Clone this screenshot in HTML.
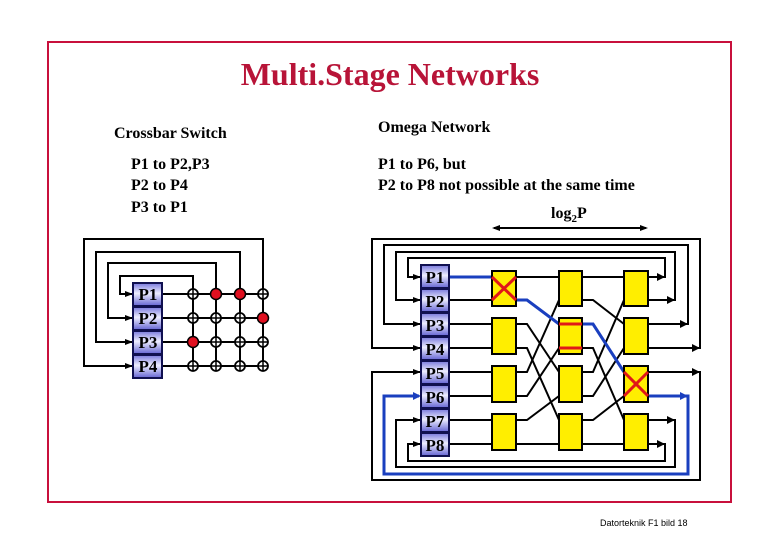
<!DOCTYPE html>
<html><head><meta charset="utf-8"><style>
html,body{margin:0;padding:0;background:#fff;}
svg{display:block;}
text{font-family:"Liberation Serif",serif;font-weight:bold;}
</style></head><body>
<svg width="780" height="540" viewBox="0 0 780 540" xmlns="http://www.w3.org/2000/svg">
<defs>
<linearGradient id="pg" x1="0" y1="0" x2="0" y2="1">
<stop offset="0" stop-color="#7878dc"/><stop offset="0.45" stop-color="#eeeeff"/><stop offset="1" stop-color="#6262d2"/>
</linearGradient>
<marker id="ar" markerWidth="8" markerHeight="8" refX="7" refY="4" orient="auto" markerUnits="userSpaceOnUse">
<path d="M0,1 L8,4 L0,7 Z" fill="#000"/></marker>
<marker id="ab" markerWidth="8" markerHeight="8" refX="7" refY="4" orient="auto" markerUnits="userSpaceOnUse">
<path d="M0,1 L8,4 L0,7 Z" fill="#1a3fbf"/></marker>
</defs>
<rect x="48" y="42" width="683" height="460" fill="none" stroke="#c8103c" stroke-width="2"/>
<text x="390" y="85" text-anchor="middle" font-size="32" fill="#b81438" font-weight="bold">Multi.Stage Networks</text>
<text x="114" y="138" font-size="16">Crossbar Switch</text>
<text x="131" y="169" font-size="16">P1 to P2,P3</text>
<text x="131" y="190" font-size="16">P2 to P4</text>
<text x="131" y="212" font-size="16">P3 to P1</text>
<text x="378" y="132" font-size="16">Omega Network</text>
<text x="378" y="169" font-size="16">P1 to P6, but</text>
<text x="378" y="190" font-size="16">P2 to P8 not possible at the same time</text>
<text x="551" y="218" font-size="16">log<tspan font-size="11" dy="4">2</tspan><tspan dy="-4">P</tspan></text>
<g stroke="#000" stroke-width="2">
<line x1="494" y1="228" x2="646" y2="228"/>
</g>
<path d="M492,228 l8,-3 v6z M648,228 l-8,-3 v6z" fill="#000"/>

<!-- Crossbar -->
<g stroke="#000" stroke-width="2" fill="none">
<polyline points="193,366 193,276 120,276 120,294 132,294" marker-end="url(#ar)"/>
<polyline points="216,366 216,263 108,263 108,318 132,318" marker-end="url(#ar)"/>
<polyline points="240,366 240,252 96,252 96,342 132,342" marker-end="url(#ar)"/>
<polyline points="263,366 263,239 84,239 84,366 132,366" marker-end="url(#ar)"/>
<line x1="162" y1="294" x2="263" y2="294"/>
<line x1="162" y1="318" x2="263" y2="318"/>
<line x1="162" y1="342" x2="263" y2="342"/>
<line x1="162" y1="366" x2="263" y2="366"/>
</g>
<g stroke="#000" stroke-width="1.8" fill="#fff">
<circle cx="193" cy="294" r="5"/><circle cx="263" cy="294" r="5"/>
<circle cx="193" cy="318" r="5"/><circle cx="216" cy="318" r="5"/><circle cx="240" cy="318" r="5"/>
<circle cx="216" cy="342" r="5"/><circle cx="240" cy="342" r="5"/><circle cx="263" cy="342" r="5"/>
<circle cx="193" cy="366" r="5"/><circle cx="216" cy="366" r="5"/><circle cx="240" cy="366" r="5"/><circle cx="263" cy="366" r="5"/>
</g>
<g stroke="#000" stroke-width="1.5">
<path d="M188,294h10M263,289v10M258,294h10M188,318h10M211,318h10M235,318h10M216,337v10M240,337v10M258,342h10M263,337v10M193,361v10M188,366h10M216,361v10M211,366h10M240,361v10M235,366h10M263,361v10M258,366h10M193,289v10M193,313v10M216,313v10M240,313v10M211,342h10M235,342h10"/>
</g>
<g stroke="#000" stroke-width="1.5" fill="#e01020">
<circle cx="216" cy="294" r="5.5"/><circle cx="240" cy="294" r="5.5"/><circle cx="263" cy="318" r="5.5"/><circle cx="193" cy="342" r="5.5"/>
</g>
<g stroke="#101050" stroke-width="2" fill="url(#pg)">
<rect x="133" y="283" width="29" height="23"/><rect x="133" y="307" width="29" height="23"/>
<rect x="133" y="331" width="29" height="23"/><rect x="133" y="355" width="29" height="23"/>
</g>
<g font-size="17" text-anchor="middle">
<text x="148" y="300">P1</text><text x="148" y="324">P2</text><text x="148" y="348">P3</text><text x="148" y="372">P4</text>
</g>

<!-- Omega -->
<g stroke="#000" stroke-width="2" fill="none">
<!-- inputs -->
<line x1="449" y1="300" x2="492" y2="300"/><line x1="449" y1="324" x2="492" y2="324"/>
<line x1="449" y1="348" x2="492" y2="348"/><line x1="449" y1="372" x2="492" y2="372"/>
<line x1="449" y1="396" x2="492" y2="396"/><line x1="449" y1="420" x2="492" y2="420"/>
<line x1="449" y1="444" x2="492" y2="444"/>
<!-- stage1 -> stage2 -->
<polyline points="516,277 559,277"/>
<polyline points="516,324 527,324 559,372"/>
<polyline points="516,348 527,348 559,420"/>
<polyline points="516,372 527,372 559,300"/>
<polyline points="516,396 527,396 559,348"/>
<polyline points="516,420 527,420 559,396"/>
<polyline points="516,444 559,444"/>
<!-- stage2 -> stage3 -->
<polyline points="582,277 624,277"/>
<polyline points="582,300 593,300 624,324"/>
<polyline points="582,348 593,348 624,420"/>
<polyline points="582,372 593,372 624,300"/>
<polyline points="582,396 593,396 624,348"/>
<polyline points="582,420 593,420 624,396"/>
<polyline points="582,444 624,444"/>
<!-- feedback -->
<polyline points="648,277 665,277 665,258 408,258 408,277 420,277" marker-end="url(#ar)"/>
<polyline points="648,300 675,300 675,252 396,252 396,300 420,300" marker-end="url(#ar)"/>
<polyline points="648,324 688,324 688,245 384,245 384,324 420,324" marker-end="url(#ar)"/>
<polyline points="648,348 700,348 700,239 372,239 372,348 420,348" marker-end="url(#ar)"/>
<polyline points="648,372 700,372 700,480 372,480 372,372 420,372" marker-end="url(#ar)"/>
<polyline points="648,420 675,420 675,467 396,467 396,420 420,420" marker-end="url(#ar)"/>
<polyline points="648,444 665,444 665,461 408,461 408,444 420,444" marker-end="url(#ar)"/>
</g>
<path d="M657,273l8,4-8,4zM667,296l8,4-8,4zM680,320l8,4-8,4zM692,344l8,4-8,4zM692,368l8,4-8,4zM667,416l8,4-8,4zM657,440l8,4-8,4z" fill="#000"/>
<!-- blue path -->
<g stroke="#1a3fbf" stroke-width="3" fill="none">
<line x1="449" y1="277" x2="492" y2="277"/>
<polyline points="516,300 527,300 559,324"/>
<polyline points="582,324 593,324 624,372"/>
<polyline points="648,396 688,396 688,474 384,474 384,396 419,396"/>
</g>
<path d="M680,392l8,4-8,4zM413,392l8,4-8,4z" fill="#1a3fbf"/>
<!-- switches -->
<g stroke="#000" stroke-width="2" fill="#ffee00">
<rect x="492" y="271" width="24" height="35"/><rect x="492" y="318" width="24" height="36"/>
<rect x="492" y="366" width="24" height="36"/><rect x="492" y="414" width="24" height="36"/>
<rect x="559" y="271" width="23" height="35"/><rect x="559" y="318" width="23" height="36"/>
<rect x="559" y="366" width="23" height="36"/><rect x="559" y="414" width="23" height="36"/>
<rect x="624" y="271" width="24" height="35"/><rect x="624" y="318" width="24" height="36"/>
<rect x="624" y="366" width="24" height="36"/><rect x="624" y="414" width="24" height="36"/>
</g>
<g stroke="#e01818" stroke-width="3">
<line x1="492" y1="277" x2="516" y2="300"/><line x1="492" y1="300" x2="516" y2="277"/>
<line x1="559" y1="324" x2="582" y2="324"/><line x1="559" y1="348" x2="582" y2="348"/>
<line x1="624" y1="372" x2="648" y2="396"/><line x1="624" y1="396" x2="648" y2="372"/>
</g>
<g stroke="#101050" stroke-width="2" fill="url(#pg)">
<rect x="421" y="265" width="28" height="23"/><rect x="421" y="289" width="28" height="23"/>
<rect x="421" y="313" width="28" height="23"/><rect x="421" y="337" width="28" height="23"/>
<rect x="421" y="361" width="28" height="23"/><rect x="421" y="385" width="28" height="23"/>
<rect x="421" y="409" width="28" height="23"/><rect x="421" y="433" width="28" height="23"/>
</g>
<g font-size="17" text-anchor="middle">
<text x="435" y="283">P1</text><text x="435" y="307">P2</text><text x="435" y="331">P3</text><text x="435" y="355">P4</text>
<text x="435" y="379">P5</text><text x="435" y="403">P6</text><text x="435" y="427">P7</text><text x="435" y="451">P8</text>
</g>
<text x="600" y="526" font-size="9" style="font-family:'Liberation Sans',sans-serif;font-weight:normal">Datorteknik F1 bild 18</text>
</svg>
</body></html>
